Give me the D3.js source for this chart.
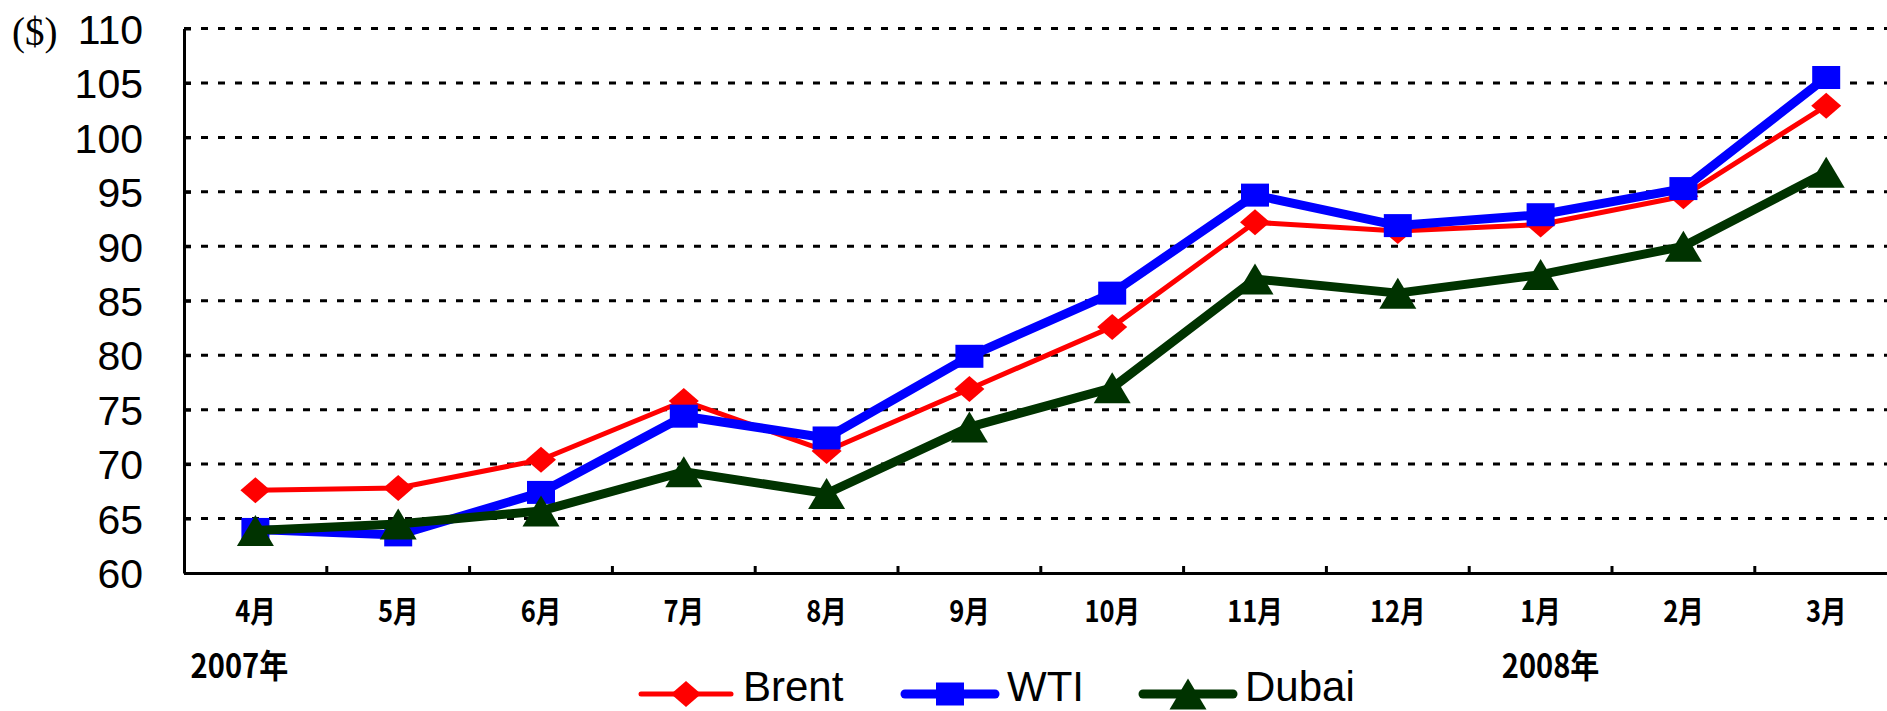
<!DOCTYPE html>
<html><head><meta charset="utf-8">
<script src="https://cdn.jsdelivr.net/npm/d3@7"></script>
<style>body{margin:0;background:#fff;overflow:hidden}</style>
</head><body><svg id="c" width="1887" height="711"></svg>
<script>
const months = ["4月","5月","6月","7月","8月","9月","10月","11月","12月","1月","2月","3月"];
const brent = [67.6, 67.8, 70.4, 75.8, 71.2, 76.9, 82.6, 92.2, 91.4, 92.0, 94.6, 102.9];
const wti   = [64.0, 63.5, 67.4, 74.4, 72.4, 79.9, 85.7, 94.7, 91.9, 92.9, 95.3, 105.5];
const dubai = [63.9, 64.5, 65.7, 69.3, 67.3, 73.4, 77.0, 87.0, 85.7, 87.4, 90.0, 96.8];
const yTicks = [60,65,70,75,80,85,90,95,100,105,110];
const yearLabels = [["2007年","4月"],["2008年","1月"]];
const unitLabel = "($)";
const seriesNames = ["Brent","WTI","Dubai"];

const svg = d3.select("#c");
const L = 184, R = 184 + 12*142.8, T = 28.5, B = 573;
const x = d3.scaleBand().domain(months).range([L, R]);
const y = d3.scaleLinear().domain([60,110]).range([B, T]);

// gridlines
svg.append("g").selectAll("line").data(yTicks.filter(d=>d>60)).join("line")
  .attr("x1", L).attr("x2", R).attr("y1", d=>y(d)).attr("y2", d=>y(d))
  .attr("stroke","#000").attr("stroke-width",3).attr("stroke-dasharray","7,10");

// y axis
const ya = svg.append("g").attr("transform",`translate(${L},0)`)
  .call(d3.axisLeft(y).tickValues(yTicks).tickSizeInner(-7).tickSizeOuter(0).tickPadding(41));
ya.select(".domain").attr("stroke","#000").attr("stroke-width",3);
ya.selectAll(".tick line").attr("stroke","#000").attr("stroke-width",3);
ya.selectAll(".tick text").attr("font-family","'Liberation Sans',Arial,sans-serif")
  .attr("font-size",41).attr("fill","#000").attr("dy","0.36em");

// x axis
const xa = svg.append("g").attr("transform",`translate(0,${B})`)
  .call(d3.axisBottom(x).tickSize(0).tickPadding(0));
xa.select(".domain").attr("stroke","#000").attr("stroke-width",3);
xa.selectAll(".tick text").remove();
// boundary ticks (inside)
svg.append("g").selectAll("line").data(months.slice(1)).join("line")
  .attr("x1", d=>x(d)).attr("x2", d=>x(d)).attr("y1", B).attr("y2", B-7)
  .attr("stroke","#000").attr("stroke-width",3);
// month labels
svg.append("g").selectAll("text").data(months).join("text")
  .attr("transform", d=>`translate(${x(d)+x.bandwidth()/2},622) scale(0.85,1)`)
  .attr("text-anchor","middle")
  .attr("font-family","'Noto Sans CJK JP',sans-serif").attr("font-size",30).attr("font-weight",700)
  .text(d=>d);
// year labels
svg.append("g").selectAll("text").data(yearLabels).join("text")
  .attr("transform", (d,i)=>`translate(${x(d[1])+x.bandwidth()/2 + (i===0?-16:10)},678) scale(0.88,1)`)
  .attr("text-anchor","middle")
  .attr("font-family","'Noto Sans CJK JP',sans-serif").attr("font-size",33).attr("font-weight",700)
  .text(d=>d[0]);
// unit
svg.append("text").attr("x",12).attr("y",45).attr("font-family","'Liberation Serif','Times New Roman',serif")
  .attr("font-size",39).text(unitLabel);

// marker shapes
const diamond = "M0,-13L15,0L0,13L-15,0Z";
const square = "M-14,-11.5H14V11.5H-14Z";
const tri = "M0,-15.5L18.5,15.5H-18.5Z";
const series = [
  {name:seriesNames[0], data:brent, color:"#FF0000", w:5, m:diamond},
  {name:seriesNames[1], data:wti, color:"#0000FF", w:9, m:square},
  {name:seriesNames[2], data:dubai, color:"#003300", w:9, m:tri}
];
const line = d3.line().x((d,i)=>x(months[i])+x.bandwidth()/2).y(d=>y(d));
series.forEach(s=>{
  const g = svg.append("g");
  g.append("path").attr("d", line(s.data)).attr("fill","none").attr("stroke",s.color)
    .attr("stroke-width",s.w).attr("stroke-linejoin","round").attr("stroke-linecap","round");
  g.selectAll("path.m").data(s.data).join("path").attr("class","m")
    .attr("transform",(d,i)=>`translate(${x(months[i])+x.bandwidth()/2},${y(d)})`)
    .attr("d", s.m).attr("fill", s.color);
});

// legend
const legX = [641, 905, 1143];
const lg = svg.append("g");
series.forEach((s,i)=>{
  const x0 = legX[i], yc = 694;
  lg.append("line").attr("x1",x0).attr("x2",x0+90).attr("y1",yc).attr("y2",yc)
    .attr("stroke",s.color).attr("stroke-width",s.w).attr("stroke-linecap","round");
  lg.append("path").attr("transform",`translate(${x0+45},${yc})`).attr("d",s.m).attr("fill",s.color);
  lg.append("text").attr("x",x0+102).attr("y",701)
    .attr("font-family","'Liberation Sans',Arial,sans-serif").attr("font-size",42)
    .text(s.name);
});
</script></body></html>
